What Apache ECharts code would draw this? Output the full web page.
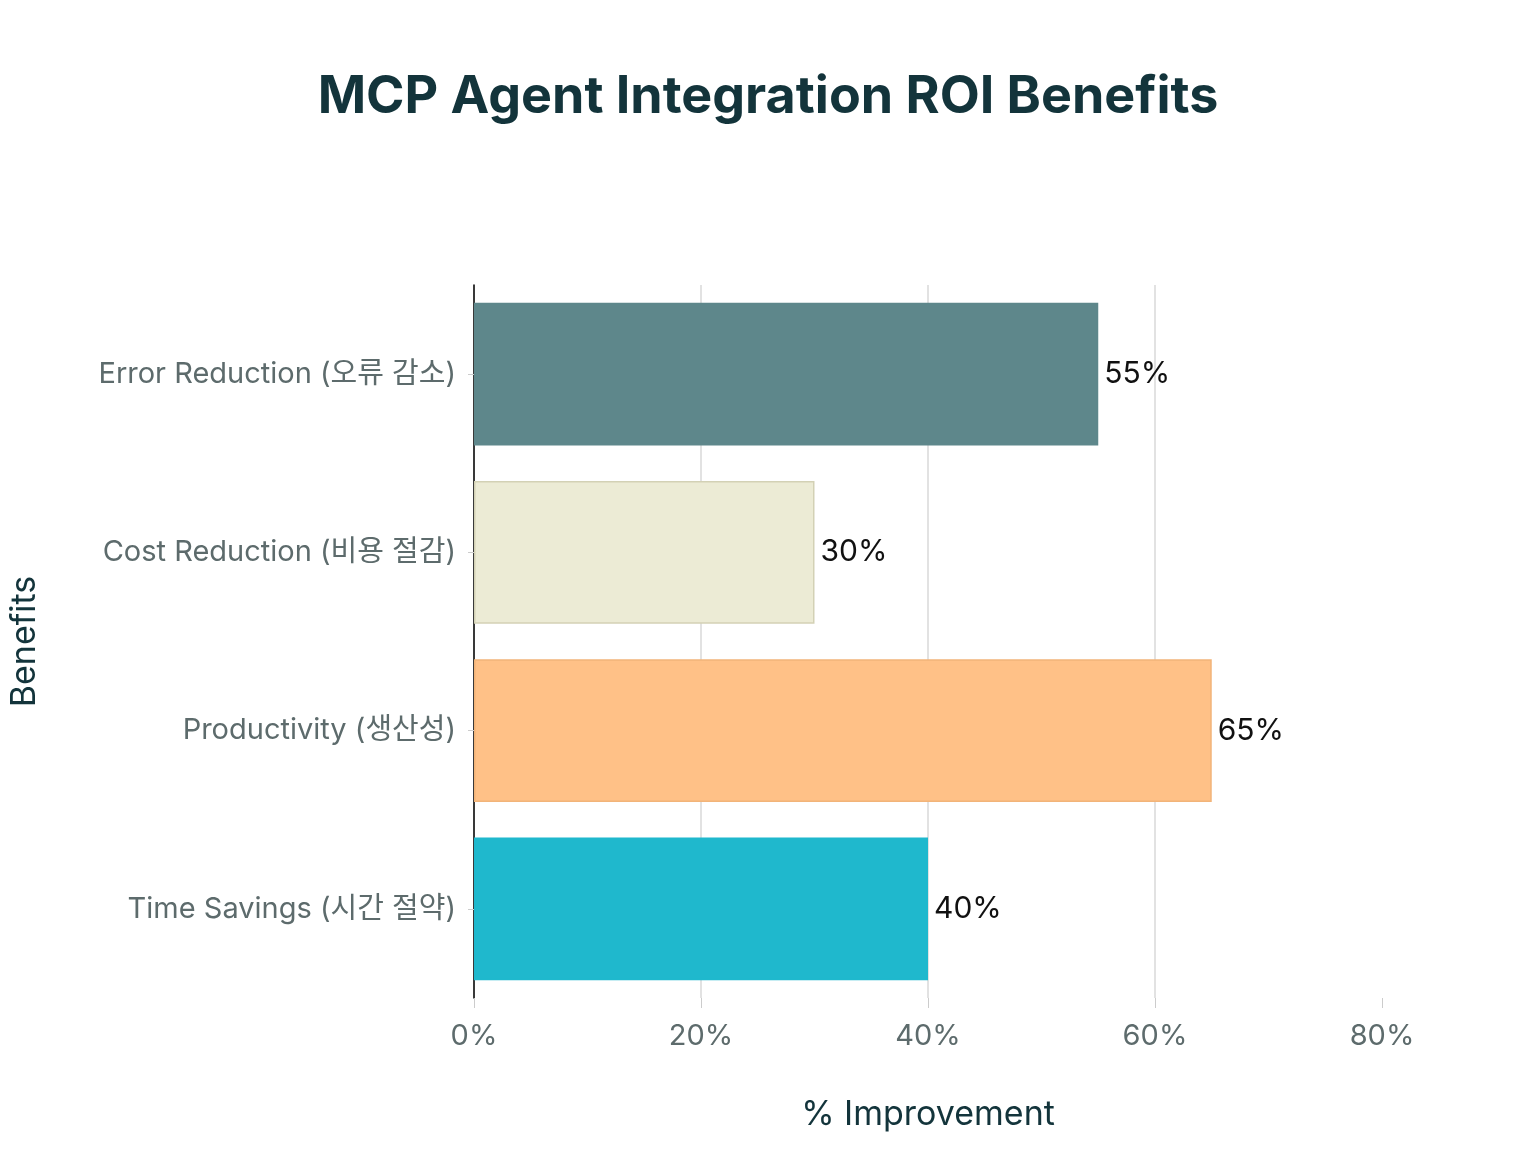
<!DOCTYPE html>
<html>
<head>
<meta charset="utf-8">
<script src="https://cdn.jsdelivr.net/npm/echarts@6/dist/echarts.min.js"></script>
<style>html,body{margin:0;background:#fff}#c{width:1536px;height:1152px}</style>
</head>
<body>
<div id="c"></div>
<script>
// 카테고리 (아래에서 위로)
var categories = ['Time Savings (시간 절약)', 'Productivity (생산성)', 'Cost Reduction (비용 절감)', 'Error Reduction (오류 감소)'];
var values = [40, 65, 30, 55];
var colors = ['#1FB8CD', '#FFC187', '#ECEBD5', '#5E878B'];
var borders = ['#1FB8CD', '#f2b479', '#d3d1b5', '#5E878B'];

var font = 'Inter, "Noto Sans CJK KR", sans-serif';
var myChart = echarts.init(document.getElementById('c'));
myChart.setOption({
    textStyle: { fontFamily: font },
    title: {
        text: 'MCP Agent Integration ROI Benefits',
        left: 'center', top: 66,
        textStyle: { fontSize: 52, fontWeight: 'bold', color: '#13343B', fontFamily: font }
    },
    grid: { left: 474, right: 154, top: 285, bottom: 154 },
    xAxis: {
        type: 'value', min: 0, max: 80, interval: 20,
        name: '% Improvement', nameLocation: 'middle', nameGap: 100,
        nameTextStyle: { fontSize: 34, color: '#13343B' },
        axisLabel: { formatter: '{value}%', fontSize: 29, color: '#5d6b6c', margin: 24 },
        axisLine: { show: false },
        axisTick: { show: true, length: 10, lineStyle: { color: '#ccc' } },
        splitLine: { showMaxLine: false, lineStyle: { color: '#d9d9d9', width: 1.5 } }
    },
    yAxis: {
        type: 'category', data: categories,
        name: 'Benefits', nameLocation: 'middle', nameGap: 432, nameRotate: 90,
        nameTextStyle: { fontSize: 34, color: '#13343B' },
        axisLabel: { fontSize: 29, color: '#5d6b6c', margin: 18 },
        axisLine: { lineStyle: { color: '#000', width: 1.5 } },
        axisTick: { show: true, alignWithLabel: true, length: 6, lineStyle: { color: '#ccc' } }
    },
    series: [{
        type: 'bar',
        barCategoryGap: '20%',
        data: values.map(function (v, i) {
            return { value: v, itemStyle: { color: colors[i], borderColor: borders[i], borderWidth: 1.5 } };
        }),
        label: { show: true, position: 'right', distance: 6, formatter: '{c}%', fontSize: 30, color: '#111' }
    }]
});
</script>
</body>
</html>
